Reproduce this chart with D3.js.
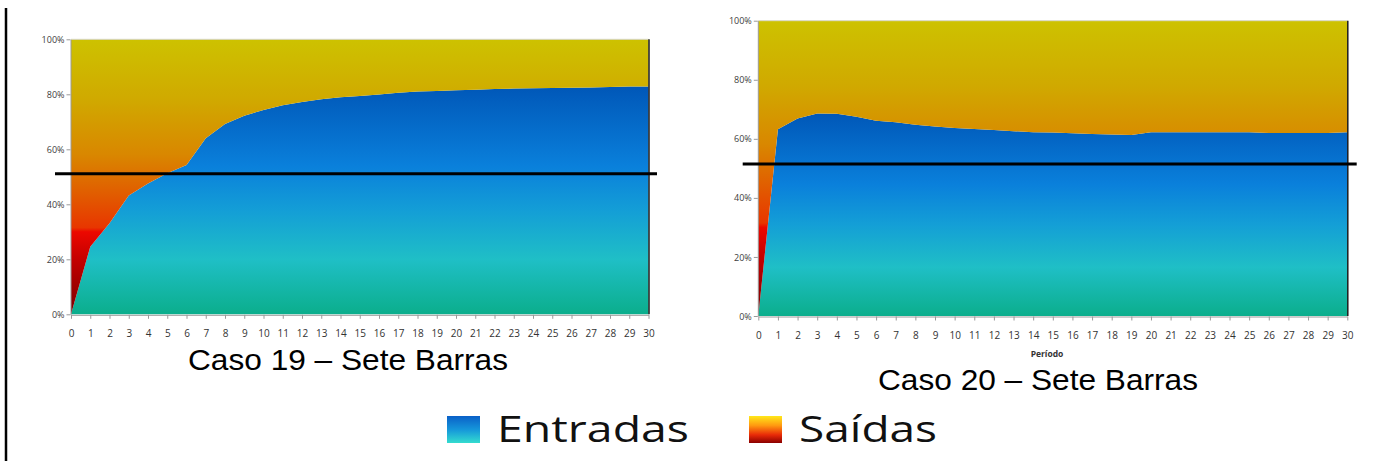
<!DOCTYPE html>
<html>
<head>
<meta charset="utf-8">
<script src="https://cdn.jsdelivr.net/npm/d3@7"></script>
<style>
  html, body { margin: 0; padding: 0; background: #ffffff; }
  svg { display: block; }
</style>
</head>
<body>
<svg id="fig" width="1379" height="461"></svg>
<script>
// Periods on the x axis
const periodos = d3.range(0, 31);

// Caso 19: share of each flow (%)
const entradas19 = [0, 24.6, 33.1, 43.2, 47.6, 51.3, 54.3, 64.0, 69.2, 72.2, 74.3, 76.0, 77.2, 78.2, 78.9, 79.4,
  79.9, 80.6, 81.0, 81.2, 81.5, 81.7, 81.9, 82.1, 82.2, 82.3, 82.4, 82.5, 82.7, 82.8, 82.8];
const saidas19 = [100, 75.4, 66.9, 56.8, 52.4, 48.7, 45.7, 36.0, 30.8, 27.8, 25.7, 24.0, 22.8, 21.8, 21.1, 20.6,
  20.1, 19.4, 19.0, 18.8, 18.5, 18.3, 18.1, 17.9, 17.8, 17.7, 17.6, 17.5, 17.3, 17.2, 17.2];

// Caso 20: share of each flow (%)
const entradas20 = [0, 63.2, 66.9, 68.6, 68.5, 67.5, 66.1, 65.6, 64.8, 64.2, 63.7, 63.3, 63.0, 62.6, 62.2, 62.1,
  61.9, 61.6, 61.5, 61.3, 62.2, 62.2, 62.2, 62.2, 62.2, 62.2, 62.0, 62.0, 62.0, 62.0, 62.2];
const saidas20 = [100, 36.8, 33.1, 31.4, 31.5, 32.5, 33.9, 34.4, 35.2, 35.8, 36.3, 36.7, 37.0, 37.4, 37.8, 37.9,
  38.1, 38.4, 38.5, 38.7, 37.8, 37.8, 37.8, 37.8, 37.8, 37.8, 38.0, 38.0, 38.0, 38.0, 37.8];

// Reference level drawn across each chart (%)
const limiar19 = 51.1;
const limiar20 = 51.5;

const yTicks = [0, 20, 40, 60, 80, 100];
const legendLabels = ["Entradas", "Saídas"];
const captions = ["Caso 19 – Sete Barras", "Caso 20 – Sete Barras"];
const xTitle = "Período";

const svg = d3.select("#fig");
const defs = svg.append("defs");

function linGrad(id, stops) {
  const g = defs.append("linearGradient").attr("id", id)
    .attr("x1", 0).attr("y1", 0).attr("x2", 0).attr("y2", 1);
  stops.forEach(([o, c]) => g.append("stop").attr("offset", o).attr("stop-color", c));
  return g;
}

// Fill ramps for the two stacked bands
linGrad("gEntradas", [[0, "#0057b8"], [0.35, "#0a80db"], [0.55, "#149fd6"], [0.76, "#1fbfc6"], [1, "#0bae8c"]]);
linGrad("gSaidas", [[0, "#cdc200"], [0.22, "#d0a900"], [0.42, "#d98700"], [0.56, "#e15d00"], [0.685, "#e83600"],
  [0.70, "#ec0800"], [0.8, "#c40000"], [1, "#7a0000"]]);
linGrad("gLegEntradas", [[0, "#0a60c8"], [0.5, "#1596da"], [1, "#34dccf"]]);
linGrad("gLegSaidas", [[0, "#ffe81a"], [0.35, "#ff9a10"], [0.7, "#e82a08"], [1, "#8a0000"]]);

const soft = defs.append("filter").attr("id", "soft").attr("x", -0.1).attr("y", -0.1)
  .attr("width", 1.2).attr("height", 1.2);
soft.append("feGaussianBlur").attr("stdDeviation", 0.6);

function drawChart(cfg) {
  const { left, right, top, bottom, entradas, saidas, limiar, lineFrom, lineTo, labelBase } = cfg;
  const x = d3.scaleLinear().domain([0, 30]).range([left, right]);
  const y = d3.scaleLinear().domain([0, 1]).range([bottom, top]);

  const rows = periodos.map((p, i) => ({ p, entradas: entradas[i], saidas: saidas[i] }));
  const series = d3.stack().keys(["entradas", "saidas"]).offset(d3.stackOffsetExpand)(rows);

  const area = d3.area()
    .x(d => x(d.data.p))
    .y0(d => y(d[0]))
    .y1(d => y(d[1]));

  const g = svg.append("g");
  g.selectAll("path.band").data(series).join("path")
    .attr("class", "band")
    .attr("d", area)
    .attr("fill", d => d.key === "entradas" ? "url(#gEntradas)" : "url(#gSaidas)");

  // frame: light top edge, dark right edge with a soft shade
  g.append("line").attr("x1", left).attr("x2", right).attr("y1", top).attr("y2", top)
    .attr("stroke", "#d8d8c8").attr("stroke-width", 1);
  g.append("line").attr("x1", right + 1.5).attr("x2", right + 1.5).attr("y1", top + 1).attr("y2", bottom + 1)
    .attr("stroke", "#555").attr("stroke-width", 2).attr("filter", "url(#soft)");
  g.append("line").attr("x1", right + 0.5).attr("x2", right + 0.5).attr("y1", top).attr("y2", bottom)
    .attr("stroke", "#1a1a1a").attr("stroke-width", 1.5);

  // y axis
  const yAxis = d3.axisLeft(y).tickValues(yTicks.map(v => v / 100))
    .tickFormat((d, i) => yTicks[i] + "%").tickSize(4).tickSizeOuter(0);
  const ga = g.append("g").attr("transform", `translate(${left - 0.5},0)`).call(yAxis);
  ga.select(".domain").attr("stroke", "#9a9a9a");
  ga.selectAll(".tick line").attr("stroke", "#9a9a9a");
  ga.selectAll(".tick text").attr("font-family", "'Open Sans', sans-serif").attr("font-size", 9)
    .attr("fill", "#404040").attr("x", -6).attr("dy", "0.34em");

  // x axis
  const xAxis = d3.axisBottom(x).tickValues(periodos).tickFormat(d3.format("d")).tickSize(4).tickSizeOuter(0);
  const gx = g.append("g").attr("transform", `translate(0,${bottom + 0.5})`).call(xAxis);
  gx.select(".domain").attr("stroke", "#9a9a9a");
  gx.selectAll(".tick line").attr("stroke", "#9a9a9a");
  gx.selectAll(".tick text").attr("font-family", "'Open Sans', sans-serif").attr("font-size", 10)
    .attr("fill", "#333").attr("y", labelBase - bottom).attr("dy", 0);

  // reference level
  g.append("line").attr("x1", lineFrom).attr("x2", lineTo)
    .attr("y1", y(limiar / 100)).attr("y2", y(limiar / 100))
    .attr("stroke", "#000").attr("stroke-width", 3);
}

drawChart({ left: 71, right: 648.5, top: 39.3, bottom: 314.3, entradas: entradas19, saidas: saidas19,
  limiar: limiar19, lineFrom: 55, lineTo: 657, labelBase: 337 });
drawChart({ left: 758.3, right: 1347.3, top: 20.7, bottom: 316, entradas: entradas20, saidas: saidas20,
  limiar: limiar20, lineFrom: 742.7, lineTo: 1356.7, labelBase: 338 });

// axis title of the second chart
svg.append("text").attr("x", 1047).attr("y", 357).attr("text-anchor", "middle")
  .attr("font-family", "'Open Sans', sans-serif").attr("font-weight", "bold").attr("font-size", 8.5)
  .attr("fill", "#333").text(xTitle);

// captions
const capPos = [[188, 370], [878, 390]];
captions.forEach((c, i) => {
  svg.append("text").attr("x", capPos[i][0]).attr("y", capPos[i][1])
    .attr("font-family", "'Liberation Sans', Arial, sans-serif").attr("font-size", 30)
    .attr("textLength", 320).attr("lengthAdjust", "spacingAndGlyphs")
    .attr("fill", "#000").text(c);
});

// legend
const legPos = [{ sx: 447, tx: 497, tw: 192, fill: "url(#gLegEntradas)" },
                { sx: 749, tx: 799, tw: 138, fill: "url(#gLegSaidas)" }];
legendLabels.forEach((lab, i) => {
  const p = legPos[i];
  svg.append("rect").attr("x", p.sx).attr("y", 416).attr("width", 33).attr("height", 27).attr("fill", p.fill);
  svg.append("text").attr("x", p.tx).attr("y", 442)
    .attr("font-family", "'Open Sans', sans-serif").attr("font-size", 37).attr("font-weight", 500)
    .attr("textLength", p.tw).attr("lengthAdjust", "spacingAndGlyphs")
    .attr("fill", "#111").text(lab);
});

// left page rule
svg.append("line").attr("x1", 6).attr("x2", 6).attr("y1", 8).attr("y2", 461)
  .attr("stroke", "#000").attr("stroke-width", 2.5);
</script>
</body>
</html>
